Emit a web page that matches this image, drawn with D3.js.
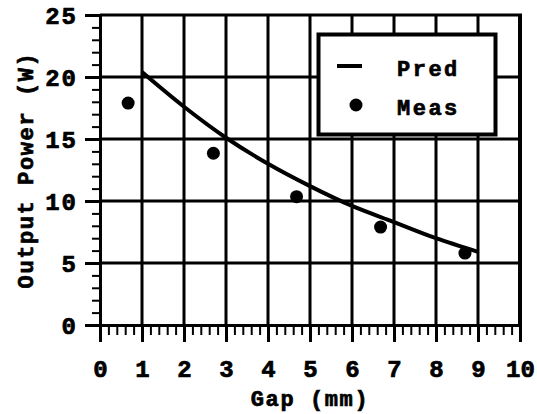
<!DOCTYPE html>
<html>
<head>
<meta charset="utf-8">
<script src="https://cdn.jsdelivr.net/npm/d3@7"></script>
<style>
  body { margin: 0; background: #fff; }
  text { font-family: "Liberation Mono", "DejaVu Sans Mono", monospace; font-weight: bold; fill: #000; stroke: #000; stroke-width: 0.7px; }
</style>
</head>
<body>
<div id="vis"></div>
<script>
// data
const PRED_GAP = [1, 2, 3, 4, 5, 6, 7, 8, 9];
const PRED_POWER = [20.4, 17.6, 15.1, 13.0, 11.2, 9.6, 8.3, 7.0, 5.9];
const MEAS_GAP = [0.67, 2.7, 4.68, 6.68, 8.69];
const MEAS_POWER = [17.9, 13.85, 10.35, 7.9, 5.8];
const X_TICKS = [0, 1, 2, 3, 4, 5, 6, 7, 8, 9, 10];
const Y_TICKS = [0, 5, 10, 15, 20, 25];
const LEGEND = ["Pred", "Meas"];

const FRAME_WIDTH = 537;
const FRAME_HEIGHT = 414;
const MARGINS = { left: 100, right: 17, top: 15, bottom: 89 };
const VIS_WIDTH = FRAME_WIDTH - MARGINS.left - MARGINS.right;
const VIS_HEIGHT = FRAME_HEIGHT - MARGINS.top - MARGINS.bottom;

const FRAME = d3.select("#vis")
  .append("svg")
  .attr("width", FRAME_WIDTH)
  .attr("height", FRAME_HEIGHT);

const X_SCALE = d3.scaleLinear().domain([0, 10]).range([MARGINS.left, MARGINS.left + VIS_WIDTH]);
const Y_SCALE = d3.scaleLinear().domain([0, 25]).range([MARGINS.top + VIS_HEIGHT, MARGINS.top]);

// grid
const grid = FRAME.append("g").attr("stroke", "#000").attr("stroke-width", 3);
grid.selectAll(".vg").data(X_TICKS.slice(1, -1)).enter().append("line")
  .attr("x1", d => X_SCALE(d)).attr("x2", d => X_SCALE(d))
  .attr("y1", Y_SCALE(25)).attr("y2", Y_SCALE(0));
grid.selectAll(".hg").data(Y_TICKS.slice(1, -1)).enter().append("line")
  .attr("x1", X_SCALE(0)).attr("x2", X_SCALE(10))
  .attr("y1", d => Y_SCALE(d)).attr("y2", d => Y_SCALE(d));

// frame top / right
FRAME.append("line").attr("x1", X_SCALE(0)).attr("x2", X_SCALE(10) + 2)
  .attr("y1", Y_SCALE(25)).attr("y2", Y_SCALE(25))
  .attr("stroke", "#000").attr("stroke-width", 3);
FRAME.append("line").attr("x1", X_SCALE(10)).attr("x2", X_SCALE(10))
  .attr("y1", Y_SCALE(25)).attr("y2", Y_SCALE(0))
  .attr("stroke", "#000").attr("stroke-width", 4);

// axes
const X_AXIS = d3.axisBottom(X_SCALE).tickValues(X_TICKS).tickSize(17).tickPadding(18).tickFormat(d3.format("d"));
const X_MINOR = d3.axisBottom(X_SCALE).tickValues(d3.range(0, 50).map(i => i * 0.2)).tickSize(10).tickFormat("");
const Y_AXIS = d3.axisLeft(Y_SCALE).tickValues(Y_TICKS).tickSize(15).tickPadding(7).tickFormat(d3.format("d"));
const Y_MINOR = d3.axisLeft(Y_SCALE).tickValues(d3.range(0, 26)).tickSize(8).tickFormat("");

[X_MINOR, X_AXIS].forEach(ax => {
  const g = FRAME.append("g").attr("transform", `translate(0, ${Y_SCALE(0)})`).call(ax);
  g.selectAll("line").attr("stroke-width", ax === X_AXIS ? 3 : 2);
  g.select(".domain").attr("stroke-width", 3);
  g.selectAll("text").style("font-size", "24px");
});
[Y_MINOR, Y_AXIS].forEach(ax => {
  const g = FRAME.append("g").attr("transform", `translate(${X_SCALE(0)}, 0)`).call(ax);
  g.selectAll("line").attr("stroke-width", ax === Y_AXIS ? 3 : 2);
  g.select(".domain").attr("stroke-width", 3);
  g.selectAll("text").style("font-size", "24px").style("letter-spacing", "2px").attr("dy", "0.36em");
});

// predicted curve
const LINE = d3.line()
  .x(d => X_SCALE(d[0]))
  .y(d => Y_SCALE(d[1]))
  .curve(d3.curveCatmullRom);
FRAME.append("path")
  .datum(PRED_GAP.map((g, i) => [g, PRED_POWER[i]]))
  .attr("d", LINE)
  .attr("fill", "none").attr("stroke", "#000").attr("stroke-width", 4);

// measured points
FRAME.selectAll(".meas").data(MEAS_GAP.map((g, i) => [g, MEAS_POWER[i]]))
  .enter().append("circle")
  .attr("cx", d => X_SCALE(d[0])).attr("cy", d => Y_SCALE(d[1]))
  .attr("r", 6.5).attr("fill", "#000");

// legend
const LEG = FRAME.append("g");
LEG.append("rect").attr("x", 318.5).attr("y", 34.5).attr("width", 177).attr("height", 100)
  .attr("fill", "#fff").attr("stroke", "#000").attr("stroke-width", 4);
LEG.append("line").attr("x1", 337).attr("x2", 362).attr("y1", 66).attr("y2", 66)
  .attr("stroke", "#000").attr("stroke-width", 4);
LEG.append("circle").attr("cx", 356).attr("cy", 105).attr("r", 6.5).attr("fill", "#000");
LEG.selectAll(".lt").data(LEGEND).enter().append("text")
  .attr("x", 397).attr("y", (d, i) => 76 + i * 39)
  .style("font-size", "22px").style("letter-spacing", "2.5px")
  .text(d => d);

// axis titles
FRAME.append("text")
  .attr("x", X_SCALE(5)).attr("y", 406)
  .attr("text-anchor", "middle")
  .style("font-size", "22px").style("letter-spacing", "1.6px")
  .text("Gap (mm)");
FRAME.append("text")
  .attr("transform", `translate(33, ${(Y_SCALE(0) + Y_SCALE(25)) / 2}) rotate(-90)`)
  .attr("text-anchor", "middle")
  .style("font-size", "22px").style("letter-spacing", "1.6px")
  .text("Output Power (W)");
</script>
</body>
</html>
